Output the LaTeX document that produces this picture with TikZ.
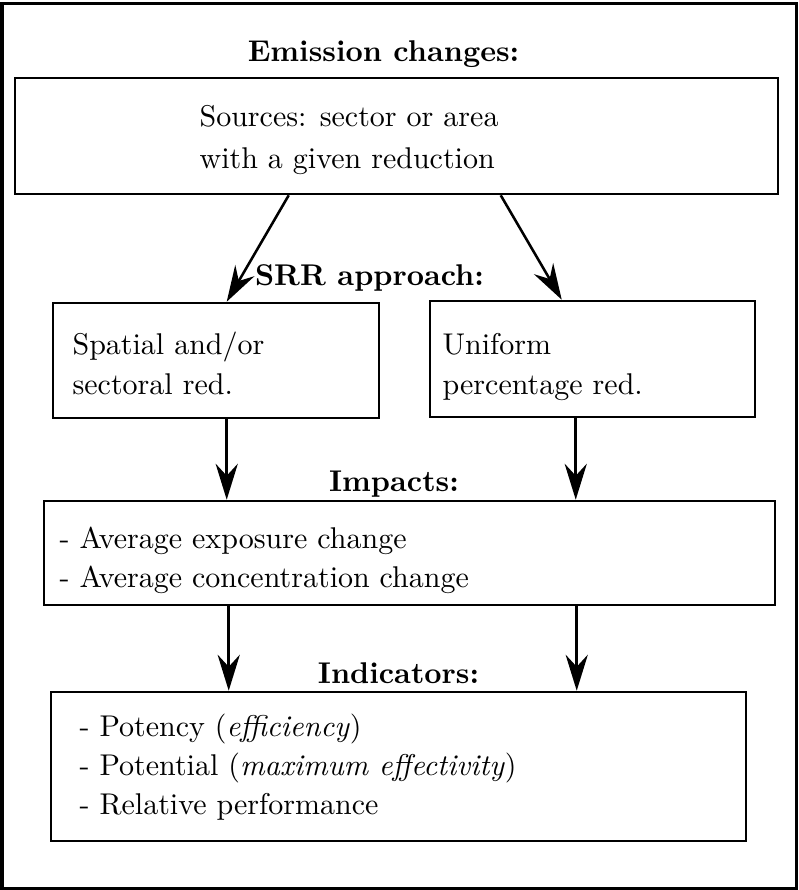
\documentclass[tikz,border=0pt]{standalone}
\usetikzlibrary{arrows.meta,calc}
\newcommand\tlines[2]{{\fontsize{10}{#1}\selectfont\begin{tabular}[t]{@{}l@{}}#2\end{tabular}}}
\begin{document}
\begin{tikzpicture}[x=0.33333pt,y=-0.33333pt,
  box/.style={draw,line width=0.85pt,inner sep=0pt},
  ttl/.style={font=\bfseries,inner sep=0pt,anchor=base},
  txt/.style={inner sep=0pt,anchor=base west},
  arr/.style={line width=0.85pt,-{Stealth[length=12pt,width=7.4pt,inset=4pt]}}]
\useasboundingbox (0,0) rectangle (799,890);
\draw[line width=1pt] (2,4) rectangle (796,888);
% boxes
\node[box,minimum width=254.33pt,minimum height=38.67pt] (b1) at (396.5,136) {};
\node[box,minimum width=108.67pt,minimum height=38.33pt] (b2l) at (216,360.5) {};
\node[box,minimum width=108.33pt,minimum height=38.67pt] (b2r) at (592.5,359) {};
\node[box,minimum width=243.67pt,minimum height=34.67pt] (b3) at (409.5,553) {};
\node[box,minimum width=231.67pt,minimum height=49.67pt] (b4) at (398.5,766.5) {};
% titles
\node[ttl] (t1) at (383.5,62) {Emission changes:};
\node[ttl] (t2) at (369.5,286) {SRR approach:};
\node[ttl] (t3) at (394,491) {Impacts:};
\node[ttl] (t4) at (398.5,683) {Indicators:};
% texts
\node[txt] (x1) at (199,127) {\tlines{13.7pt}{Sources: sector or area\\with a given reduction}};
\node[txt] (x2) at (72,355) {\tlines{13.2pt}{Spatial and/or\\sectoral red.}};
\node[txt] (x3) at (442,355) {\tlines{13.2pt}{Uniform\\percentage red.}};
\node[txt] (x4) at (59,548) {\tlines{13.1pt}{- Average exposure change\\- Average concentration change}};
\node[txt] (x5) at (79,736) {\tlines{13pt}{- Potency (\textit{efficiency})\\- Potential (\textit{maximum effectivity})\\- Relative performance}};
% arrows
\draw[arr] ($(b1.south west)+(275,0)$) -- ($(b2l.north west)+(175,0)$);
\draw[arr] ($(b1.south west)+(487,0)$) -- ($(b2r.north west)+(133,0)$);
\draw[arr] ($(b2l.south west)+(175,0)$) coordinate (p1) -- (p1 |- b3.north);
\draw[arr] ($(b2r.south west)+(147,0)$) coordinate (p2) -- (p2 |- b3.north);
\draw[arr] ($(b3.south west)+(186,0)$) coordinate (p3) -- (p3 |- b4.north);
\draw[arr] ($(b3.south west)+(534,0)$) coordinate (p4) -- (p4 |- b4.north);
\end{tikzpicture}
\end{document}
